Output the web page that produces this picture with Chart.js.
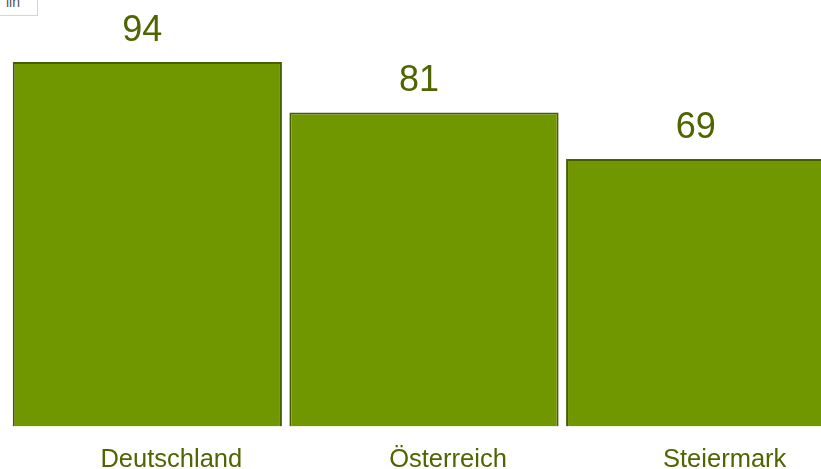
<!DOCTYPE html>
<html>
<head>
<meta charset="utf-8">
<script src="https://cdn.jsdelivr.net/npm/chart.js@4/dist/chart.umd.min.js"></script>
<style>
    html, body { margin: 0; padding: 0; background: #fff; overflow: hidden; }
    body { width: 821px; height: 469px; position: relative; }
    #wrap { position: absolute; left: 0; top: 0; width: 850px; height: 494px; }
    .btn {
        position: absolute; left: -1px; top: -9px; width: 39px; height: 25px;
        border: 1px solid #d4d4d4; background: #fff; color: #555;
        font: 14px "Liberation Sans", Arial, sans-serif; line-height: 20px;
        overflow: hidden; padding-left: 6px; box-sizing: border-box; z-index: 2;
    }
</style>
</head>
<body>
<div class="btn">lln</div>
<div id="wrap"><canvas id="barChart"></canvas></div>
<script>
const categories = ['Deutschland', 'Österreich', 'Steiermark'];
const values = [94, 81, 69];
const yMax = 110;

const textColor = '#4e6500';

// value labels above each bar
const valueLabels = {
    id: 'valueLabels',
    afterDatasetsDraw(chart) {
        const ctx = chart.ctx;
        const meta = chart.getDatasetMeta(0);
        ctx.save();
        ctx.fillStyle = textColor;
        ctx.font = '36px "Liberation Sans", Arial, sans-serif';
        ctx.textAlign = 'center';
        ctx.textBaseline = 'alphabetic';
        meta.data.forEach((bar, i) => {
            ctx.fillText(String(values[i]), bar.x - 5, bar.y - 21);
        });
        ctx.restore();
    }
};

document.addEventListener('DOMContentLoaded', () => {
    const ctx = document.getElementById('barChart').getContext('2d');
    new Chart(ctx, {
        type: 'bar',
        data: {
            labels: categories,
            datasets: [{
                data: values,
                backgroundColor: '#709600',
                borderColor: '#465d00',
                borderWidth: 2,
                categoryPercentage: 1,
                barPercentage: 0.973
            }]
        },
        options: {
            responsive: true,
            maintainAspectRatio: false,
            animation: false,
            layout: {
                padding: { left: 9, right: 11, top: 0, bottom: 0 }
            },
            plugins: {
                legend: { display: false },
                tooltip: { enabled: false }
            },
            scales: {
                x: {
                    grid: { display: false, drawTicks: false },
                    border: { display: false },
                    ticks: {
                        color: textColor,
                        padding: 21,
                        labelOffset: 24,
                        maxRotation: 0,
                        font: { family: '"Liberation Sans", Arial, sans-serif', size: 25.5, lineHeight: 1.0 }
                    }
                },
                y: {
                    display: false,
                    min: 0,
                    max: yMax
                }
            }
        },
        plugins: [valueLabels]
    });
});
</script>
</body>
</html>
